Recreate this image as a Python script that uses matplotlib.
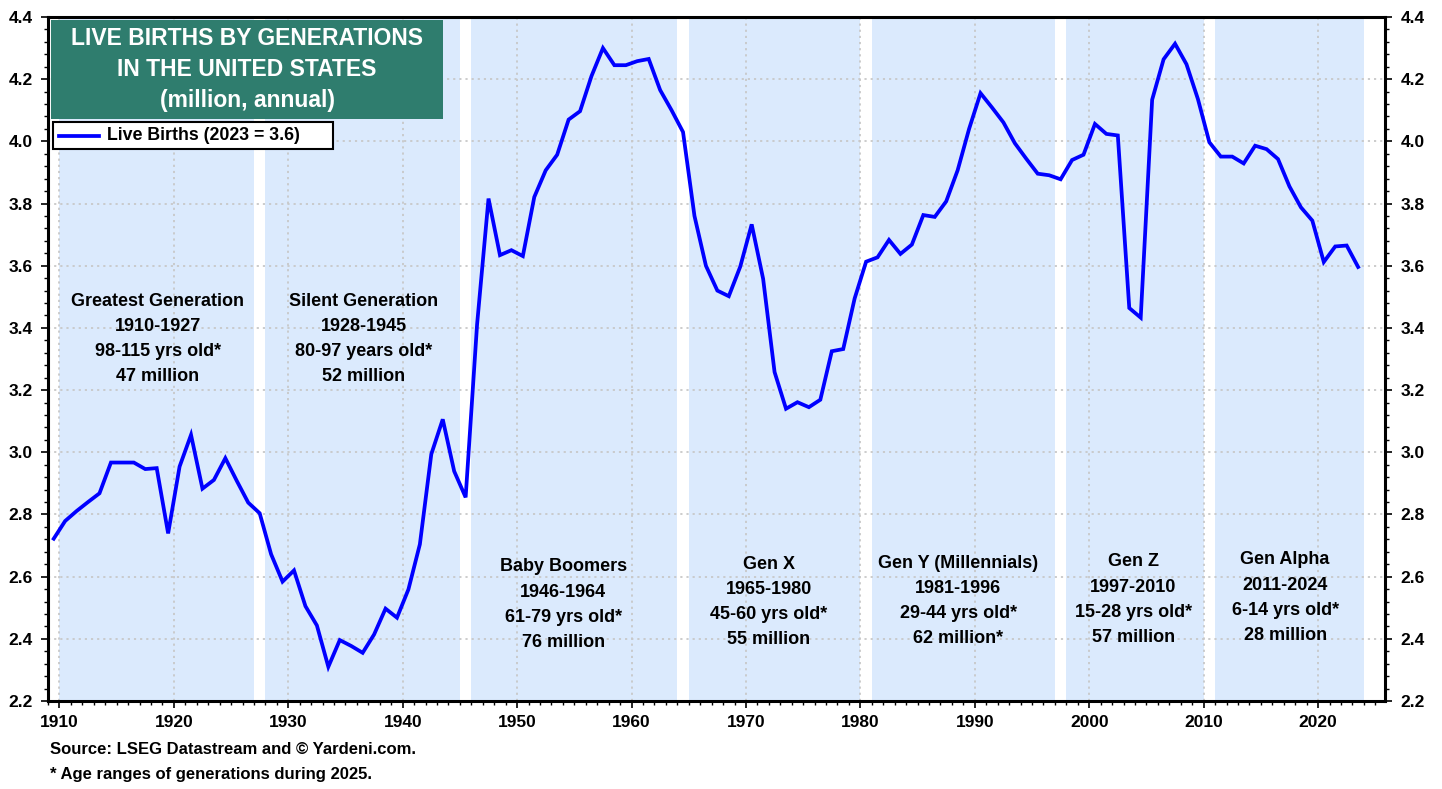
import matplotlib
matplotlib.use("Agg")
import matplotlib.pyplot as plt
from matplotlib.patches import Rectangle
from matplotlib.lines import Line2D
from matplotlib.ticker import MultipleLocator, FormatStrFormatter
import numpy as np

# ---------------- data ----------------
start_year = 1909
births = [
    2.722, 2.779, 2.811, 2.840, 2.868, 2.967, 2.967, 2.967, 2.946, 2.949,  # 1909-1918
    2.739, 2.954, 3.056, 2.883, 2.911, 2.981, 2.908, 2.838, 2.804, 2.672,  # 1919-1928
    2.584, 2.620, 2.505, 2.443, 2.310, 2.396, 2.377, 2.355, 2.414, 2.497,  # 1929-1938
    2.468, 2.559, 2.704, 2.994, 3.106, 2.939, 2.855, 3.411, 3.816, 3.634,  # 1939-1948
    3.650, 3.631, 3.821, 3.907, 3.957, 4.070, 4.097, 4.210, 4.300, 4.245,  # 1949-1958
    4.245, 4.258, 4.265, 4.165, 4.100, 4.030, 3.760, 3.600, 3.520, 3.502,  # 1959-1968
    3.597, 3.733, 3.558, 3.258, 3.140, 3.161, 3.145, 3.169, 3.325, 3.332,  # 1969-1978
    3.495, 3.613, 3.627, 3.683, 3.638, 3.668, 3.763, 3.757, 3.807, 3.907,  # 1979-1988
    4.040, 4.155, 4.109, 4.061, 3.994, 3.944, 3.896, 3.891, 3.878, 3.940,  # 1989-1998
    3.957, 4.056, 4.024, 4.019, 3.464, 3.433, 4.134, 4.264, 4.314, 4.248,  # 1999-2008
    4.136, 3.997, 3.951, 3.951, 3.929, 3.986, 3.975, 3.943, 3.855, 3.788,  # 2009-2018
    3.745, 3.612, 3.662, 3.665, 3.596,                                     # 2019-2023
]
years = np.arange(start_year, start_year + len(births))

gen_names = ["Greatest Generation", "Silent Generation", "Baby Boomers", "Gen X",
             "Gen Y (Millennials)", "Gen Z", "Gen Alpha"]
gen_start = [1910, 1928, 1946, 1965, 1981, 1997, 2011]
gen_end = [1927, 1945, 1964, 1980, 1996, 2010, 2024]
gen_ages = ["98-115 yrs old*", "80-97 years old*", "61-79 yrs old*", "45-60 yrs old*",
            "29-44 yrs old*", "15-28 yrs old*", "6-14 yrs old*"]
gen_counts = ["47 million", "52 million", "76 million", "55 million",
              "62 million*", "57 million", "28 million"]

# shaded spans as drawn in the chart
band_start = [1910, 1928, 1946, 1965, 1981, 1998, 2011]
band_end = [1927, 1945, 1964, 1980, 1997, 2010, 2024]

series_label = "Live Births (2023 = 3.6)"
title_lines = ["LIVE BIRTHS BY GENERATIONS", "IN THE UNITED STATES", "(million, annual)"]
footnotes = ["Source: LSEG Datastream and \u00a9 Yardeni.com.",
             "* Age ranges of generations during 2025."]

# ---------------- layout / style ----------------
W, H = 1442, 789
FONT = ["Liberation Sans", "DejaVu Sans"]
plt.rcParams["font.family"] = FONT
plt.rcParams["font.weight"] = "bold"

label_x = [1918.59, 1936.59, 1954.02, 1971.97, 1988.55, 2003.84, 2017.12]
label_y = [3.364, 3.364, 2.510, 2.518, 2.521, 2.526, 2.532]

band_color = "#dbeafd"
line_color = "#0000ff"
teal = "#2f7d6e"

fig = plt.figure(figsize=(W / 100, H / 100), dpi=100)
ax = fig.add_axes([48 / W, 1 - 701 / H, 1337 / W, 684 / H])

for s, e in zip(band_start, band_end):
    ax.axvspan(s, e, color=band_color, lw=0, zorder=0)

ax.plot(years + 0.5, births, color=line_color, lw=2.7, zorder=3,
        solid_joinstyle="miter")

ax.set_xlim(1909.0, 2025.85)
ax.set_ylim(2.2, 4.4)

ax.xaxis.set_major_locator(MultipleLocator(10))
ax.xaxis.set_minor_locator(MultipleLocator(1))
ax.yaxis.set_major_locator(MultipleLocator(0.2))
ax.yaxis.set_minor_locator(MultipleLocator(0.04))
ax.yaxis.set_major_formatter(FormatStrFormatter("%.1f"))

ax.grid(True, which="major", color="#c8c8c8", linestyle=(0, (1.2, 2.2)), lw=1.3, zorder=1)
ax.set_axisbelow(True)

ax.tick_params(axis="both", which="major", labelsize=12.5, color="black", width=1.2, length=5)
ax.tick_params(axis="both", which="minor", color="black", width=1.0, length=3)
ax.tick_params(axis="y", which="both", left=True, right=True, labelleft=True, labelright=True,
               direction="out")
ax.tick_params(axis="y", which="major", pad=6)
ax.tick_params(axis="x", which="both", bottom=True, top=False, direction="out")
ax.tick_params(axis="x", which="major", pad=5)
for lab in ax.get_xticklabels() + ax.get_yticklabels():
    lab.set_fontweight("bold")

for sp in ax.spines.values():
    sp.set_linewidth(2.2)
    sp.set_color("black")

# generation labels
for i in range(len(gen_names)):
    txt = "\n".join([gen_names[i], f"{gen_start[i]}-{gen_end[i]}", gen_ages[i], gen_counts[i]])
    ax.text(label_x[i], label_y[i], txt, ha="center", va="center", fontsize=13,
            fontweight="bold", linespacing=1.63, zorder=4)

# title box
fig.patches.append(Rectangle((51 / W, 1 - 119 / H), 392 / W, 99 / H, transform=fig.transFigure,
                             facecolor=teal, edgecolor="none", zorder=5))
for yy, t in zip([38.5, 69.5, 100.5], title_lines):
    fig.text(247 / W, 1 - yy / H, t, ha="center", va="center", color="white",
             fontsize=16.5, fontweight="bold", zorder=6)

# legend box
fig.patches.append(Rectangle((53 / W, 1 - 149 / H), 280 / W, 27 / H, transform=fig.transFigure,
                             facecolor="white", edgecolor="black", lw=1.5, zorder=5))
fig.lines.append(Line2D([59 / W, 99 / W], [1 - 135.5 / H, 1 - 135.5 / H], transform=fig.transFigure,
                        color=line_color, lw=2.7, zorder=6))
fig.text(107 / W, 1 - 135.5 / H, series_label, ha="left", va="center", fontsize=12.8,
         fontweight="bold", zorder=6)

# footnotes
for yy, t in zip([749, 774], footnotes):
    fig.text(50 / W, 1 - yy / H, t, ha="left", va="center", fontsize=12, fontweight="bold")

fig.savefig("out.png", dpi=100)
